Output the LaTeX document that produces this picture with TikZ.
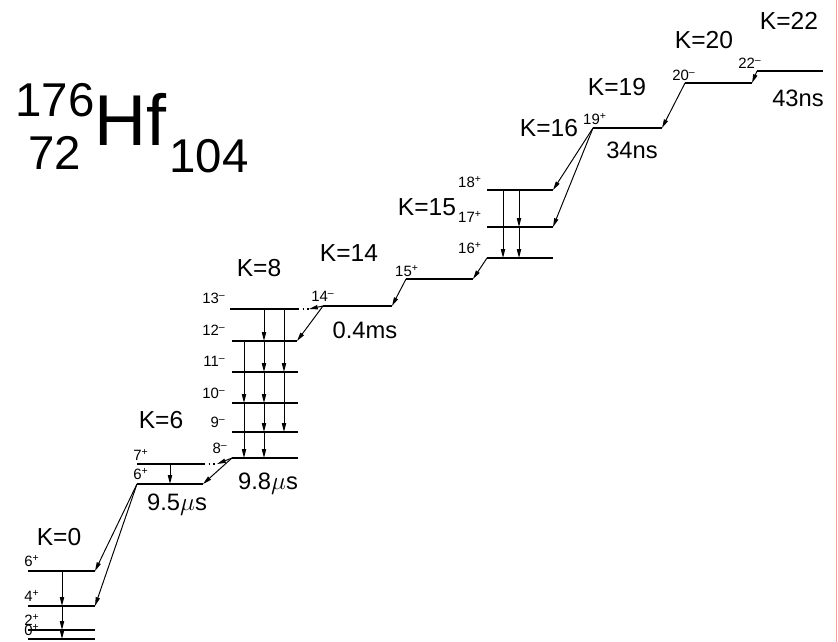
\documentclass[tikz,border=0pt]{standalone}
\usepackage{fontspec}
\setmainfont{Liberation Sans}
\usetikzlibrary{arrows.meta}

\begin{document}
\begin{tikzpicture}[
    x=0.02cm, y=-0.02cm,
    lvline/.style={line width=0.75pt},
    gam/.style={line width=0.55pt,-{Triangle[length=5pt,width=2.4pt]}},
    tent/.style={line width=0.7pt,dotted},
    spin/.style={font=\fontsize{8.5}{9}\selectfont,inner sep=0pt},
    kval/.style={font=\fontsize{14}{15}\selectfont,inner sep=0pt},
    life/.style={font=\fontsize{13.5}{15}\selectfont,inner sep=0pt},
    nucl/.style={font=\fontsize{27}{28}\selectfont,inner sep=0pt}
]
\useasboundingbox (0,0) rectangle (838,642);

% Nucleus
\node[nucl] (mass) at (55,100) {176};
\node[nucl] (charge) at (55,153) {72};
\node[font=\fontsize{41}{42}\selectfont,inner sep=0pt] (elem) at (131,119) {Hf};
\node[nucl] (neut) at (209,156) {104};

% Level ends
\coordinate (gs6-l) at (28,571);   \coordinate (gs6-r) at (95,571);
\coordinate (gs4-l) at (28,606);   \coordinate (gs4-r) at (95,606);
\coordinate (gs2-l) at (28,630);   \coordinate (gs2-r) at (95,630);
\coordinate (gs0-l) at (28,639);   \coordinate (gs0-r) at (95,639);

\coordinate (k6s7-l) at (137,464); \coordinate (k6s7-r) at (204,464);
\coordinate (k6s7-d) at (217,464);
\coordinate (k6s6-l) at (137,484); \coordinate (k6s6-r) at (203,484);

\coordinate (k8s13-l) at (230,309); \coordinate (k8s13-r) at (298,309);
\coordinate (k8s13-d) at (309,309);
\coordinate (k8s12-l) at (232,341); \coordinate (k8s12-r) at (297,341);
\coordinate (k8s11-l) at (232,372); \coordinate (k8s11-r) at (298,372);
\coordinate (k8s10-l) at (232,403); \coordinate (k8s10-r) at (298,403);
\coordinate (k8s9-l) at (232,432);  \coordinate (k8s9-r) at (298,432);
\coordinate (k8s8-l) at (232,458);  \coordinate (k8s8-r) at (298,458);

\coordinate (s14m-l) at (323,306); \coordinate (s14m-r) at (392,306);
\coordinate (s15p-l) at (406,279); \coordinate (s15p-r) at (473,279);
\coordinate (s16p-l) at (487,258); \coordinate (s16p-r) at (553,258);
\coordinate (s17p-l) at (487,227); \coordinate (s17p-r) at (553,227);
\coordinate (s18p-l) at (487,190); \coordinate (s18p-r) at (553,190);
\coordinate (s19p-l) at (593,128); \coordinate (s19p-r) at (662,128);
\coordinate (s20m-l) at (685,83);  \coordinate (s20m-r) at (752,83);
\coordinate (s22m-l) at (757,71);  \coordinate (s22m-r) at (823,71);

% Levels
\foreach \lv in {gs6,gs4,gs2,gs0,k6s7,k6s6,k8s13,k8s12,k8s11,k8s10,k8s9,k8s8,
                 s14m,s15p,s16p,s17p,s18p,s19p,s20m,s22m}
    \draw[lvline] (\lv-l) -- (\lv-r);

% Spin labels
\node[spin] (j-gs6) at (32,561) {6\textsuperscript{+}};
\node[spin] (j-gs4) at (32,596) {4\textsuperscript{+}};
\node[spin] (j-gs2) at (32,620) {2\textsuperscript{+}};
\node[spin] (j-gs0) at (32,630) {0\textsuperscript{+}};
\node[spin] (j-k6s7) at (141,455) {7\textsuperscript{+}};
\node[spin] (j-k6s6) at (141,474) {6\textsuperscript{+}};
\node[spin,anchor=east] (j-k8s13) at (226,298) {13\textsuperscript{--}};
\node[spin,anchor=east] (j-k8s12) at (226,330) {12\textsuperscript{--}};
\node[spin,anchor=east] (j-k8s11) at (226,361) {11\textsuperscript{--}};
\node[spin,anchor=east] (j-k8s10) at (226,393) {10\textsuperscript{--}};
\node[spin,anchor=east] (j-k8s9) at (226,422) {9\textsuperscript{--}};
\node[spin,anchor=east] (j-k8s8) at (228,448) {8\textsuperscript{--}};
\node[spin] (j-s14m) at (323,296) {14\textsuperscript{--}};
\node[spin] (j-s15p) at (407,271) {15\textsuperscript{+}};
\node[spin] (j-s16p) at (470,248) {16\textsuperscript{+}};
\node[spin] (j-s17p) at (470,217) {17\textsuperscript{+}};
\node[spin] (j-s18p) at (470,182) {18\textsuperscript{+}};
\node[spin] (j-s19p) at (595,119) {19\textsuperscript{+}};
\node[spin] (j-s20m) at (684,75) {20\textsuperscript{--}};
\node[spin] (j-s22m) at (750,63) {22\textsuperscript{--}};

% K values
\node[kval] (k0) at (59,537) {K=0};
\node[kval] (k6) at (161,420) {K=6};
\node[kval] (k8) at (259,268) {K=8};
\node[kval] (k14) at (349,253) {K=14};
\node[kval] (k15) at (427,207) {K=15};
\node[kval] (k16) at (549,128) {K=16};
\node[kval] (k19) at (617,87) {K=19};
\node[kval] (k20) at (704,40) {K=20};
\node[kval] (k22) at (789,21) {K=22};

% Half-lives
\node[life] (t6) at (177,505) {9.5$\mu$s};
\node[life] (t8) at (268,484) {9.8$\mu$s};
\node[life] (t14) at (365,330) {0.4ms};
\node[life] (t19) at (632,150) {34ns};
\node[life] (t22) at (798,98) {43ns};

% Ground band
\draw[gam] (62,0 |- gs6-l) -- (62,0 |- gs4-l);
\draw[gam] (62,0 |- gs4-l) -- (62,0 |- gs2-l);
\draw[gam] (62,0 |- gs2-l) -- (62,0 |- gs0-l);

% K=6 isomer
\draw[gam] (170,0 |- k6s7-l) -- (170,0 |- k6s6-l);
\draw[gam] (k6s6-l) -- (gs6-r);
\draw[gam] (k6s6-l) -- (gs4-r);

% K=8 isomer
\draw[gam] (k8s8-l) -- (k6s6-r);
\draw[tent] (k6s7-r) -- (k6s7-d);
\draw[gam] (k8s8-l) -- (k6s7-d);
\draw[gam] (264,0 |- k8s13-l) -- (264,0 |- k8s12-l);
\draw[gam] (264,0 |- k8s12-l) -- (264,0 |- k8s11-l);
\draw[gam] (264,0 |- k8s11-l) -- (264,0 |- k8s10-l);
\draw[gam] (264,0 |- k8s10-l) -- (264,0 |- k8s9-l);
\draw[gam] (264,0 |- k8s9-l) -- (264,0 |- k8s8-l);
\draw[gam] (284,0 |- k8s13-l) -- (284,0 |- k8s11-l);
\draw[gam] (284,0 |- k8s11-l) -- (284,0 |- k8s9-l);
\draw[gam] (244,0 |- k8s12-l) -- (244,0 |- k8s10-l);
\draw[gam] (244,0 |- k8s10-l) -- (244,0 |- k8s8-l);

% K=14 isomer
\draw[gam] (s14m-l) -- (k8s12-r);
\draw[tent] (k8s13-r) -- (k8s13-d);
\draw[gam] (s14m-l) -- (k8s13-d);
\draw[gam] (s15p-l) -- (s14m-r);
\draw[gam] (s16p-l) -- (s15p-r);

% K=15 band
\draw[gam] (503,0 |- s18p-l) -- (503,0 |- s16p-l);
\draw[gam] (519,0 |- s18p-l) -- (519,0 |- s17p-l);
\draw[gam] (519,0 |- s17p-l) -- (519,0 |- s16p-l);

% High-K isomers
\draw[gam] (s19p-l) -- (s18p-r);
\draw[gam] (s19p-l) -- (s17p-r);
\draw[gam] (s20m-l) -- (s19p-r);
\draw[gam] (s22m-l) -- (s20m-r);

% Frame edge
\draw[red!40,line width=0.6pt] (836.5,0) -- (836.5,642);

\end{tikzpicture}
\end{document}
